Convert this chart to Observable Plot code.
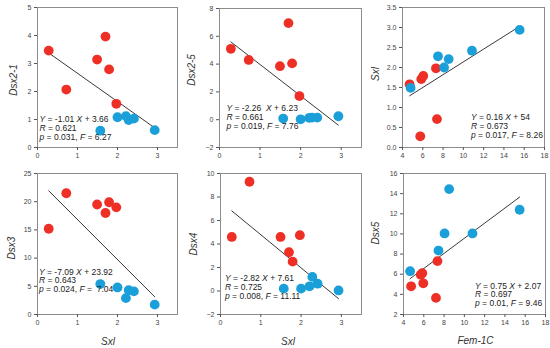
<!DOCTYPE html>
<html><head><meta charset="utf-8">
<script src="https://cdn.jsdelivr.net/npm/d3@7"></script>
<script src="https://cdn.jsdelivr.net/npm/@observablehq/plot@0.6"></script>
<style>
body{margin:0;background:#fff;}
#chart{position:relative;width:550px;height:348px;overflow:hidden;font-family:"Liberation Sans",Arial,sans-serif;background:#fff;}
#chart svg{position:absolute;overflow:visible;}
.ylab{position:absolute;font-style:italic;font-size:10px;transform:translate(-50%,-50%) rotate(-90deg);white-space:nowrap;color:#333;}
.xlab{position:absolute;font-style:italic;font-size:10px;transform:translate(-50%,-50%);white-space:nowrap;color:#333;}
.ann{position:absolute;font-size:8.5px;line-height:8.8px;white-space:pre;color:#222;}
</style></head><body><div id="chart"></div><script>
// ---- data ----
const sxlRed  = [0.28, 0.72, 1.49, 1.70, 1.79, 1.97];
const sxlBlue = [1.57, 2.00, 2.21, 2.28, 2.41, 2.93];
const dsx21Red  = [3.46, 2.07, 3.14, 3.96, 2.79, 1.56];
const dsx21Blue = [0.60, 1.08, 1.12, 0.98, 1.03, 0.62];
const dsx25Red  = [5.1, 4.3, 3.85, 6.95, 4.05, 1.7];
const dsx25Blue = [0.08, 0.03, 0.13, 0.15, 0.15, 0.25];
const dsx3Red  = [15.2, 21.5, 19.5, 18.0, 19.9, 19.0];
const dsx3Blue = [5.4, 4.8, 2.9, 4.3, 4.1, 1.75];
const dsx4Red  = [4.6, 9.3, 4.6, 3.3, 2.5, 4.75];
const dsx4Blue = [0.2, 0.2, 0.4, 1.2, 0.62, 0.05];
// Sxl vs Fem-1C panel
const femRedA  = [4.7, 5.85, 6.05, 7.3, 7.4, 5.75];
const sxlRedA  = [1.58, 1.71, 1.79, 1.98, 0.71, 0.28];
const femBlueA = [4.8, 7.5, 8.1, 8.55, 10.85, 15.55];
const sxlBlueA = [1.49, 2.28, 2.0, 2.21, 2.42, 2.94];
// Dsx5 vs Fem-1C panel
const femRedB  = [4.75, 5.7, 5.85, 5.95, 7.2, 7.35];
const dsx5Red  = [4.8, 5.95, 6.1, 5.1, 3.65, 7.3];
const femBlueB = [4.65, 7.45, 8.05, 8.5, 10.8, 15.45];
const dsx5Blue = [6.3, 8.35, 10.05, 14.45, 10.05, 12.4];
// regressions [slope, intercept]
const fits = [[-1.01, 3.66], [-2.26, 6.23], [0.16, 0.54], [-7.09, 23.92], [-2.82, 7.61], [0.75, 2.07]];
const eqTexts = [
  ["<i>Y</i> = -1.01 <i>X</i> + 3.66", "<i>R</i> = 0.621", "<i>p</i> = 0.031, <i>F</i> = 6.27"],
  ["<i>Y</i> = -2.26  <i>X</i> + 6.23", "<i>R</i> = 0.661", "<i>p</i> = 0.019, <i>F</i> = 7.76"],
  ["<i>Y</i> = 0.16 <i>X</i> + 54", "<i>R</i> = 0.673", "<i>p</i> = 0.017, <i>F</i> = 8.26"],
  ["<i>Y</i> = -7.09 <i>X</i> + 23.92", "<i>R</i> = 0.643", "<i>p</i> = 0.024, <i>F</i> =  7.04"],
  ["<i>Y</i> = -2.82 <i>X</i> + 7.61", "<i>R</i> = 0.725", "<i>p</i> = 0.008, <i>F</i> = 11.11"],
  ["<i>Y</i> = 0.75 <i>X</i> + 2.07", "<i>R</i> = 0.697", "<i>p</i> = 0.01, <i>F</i> = 9.46"]
];
const yLabels = ["Dsx2-1", "Dsx2-5", "Sxl", "Dsx3", "Dsx4", "Dsx5"];
const xLabels = ["", "", "", "Sxl", "Sxl", "Fem-1C"];
const RED = "#ee2f25", BLUE = "#1b9fd9";
const intFmt = d3.format("d");

const panels = [
  {xr: sxlRed, yr: dsx21Red, xb: sxlBlue, yb: dsx21Blue, xd: [0, 3.5], yd: [0, 5], xt: [0,1,2,3], yt: d3.range(0, 6, 1),
   f: {l: 37, t: 7, w: 140, h: 140}, ylab: [13, 80], ann: [39.5, 115]},
  {xr: sxlRed, yr: dsx25Red, xb: sxlBlue, yb: dsx25Blue, xd: [0, 3.5], yd: [-2, 8], xt: [0,1,2,3], yt: d3.range(-2, 9, 2),
   f: {l: 219, t: 8, w: 142, h: 139}, ylab: [191, 70], ann: [226.5, 104]},
  {xr: femRedA, yr: sxlRedA, xb: femBlueA, yb: sxlBlueA, xd: [4, 18], yd: [0, 3.5], xt: d3.range(4, 19, 2), yt: d3.range(0, 3.6, 0.5), yfmt: d3.format(".1f"),
   f: {l: 402, t: 7, w: 142, h: 140}, ylab: [375, 74], ann: [471, 113]},
  {xr: sxlRed, yr: dsx3Red, xb: sxlBlue, yb: dsx3Blue, xd: [0, 3.5], yd: [0, 25], xt: [0,1,2,3], yt: d3.range(0, 26, 5),
   f: {l: 37, t: 173, w: 140, h: 141}, ylab: [11, 248], ann: [39, 267.5]},
  {xr: sxlRed, yr: dsx4Red, xb: sxlBlue, yb: dsx4Blue, xd: [0, 3.5], yd: [-2, 10], xt: [0,1,2,3], yt: d3.range(-2, 11, 2),
   f: {l: 220, t: 173, w: 141, h: 141}, ylab: [193, 244], ann: [225, 274]},
  {xr: femRedB, yr: dsx5Red, xb: femBlueB, yb: dsx5Blue, xd: [4, 18], yd: [2, 16], xt: d3.range(4, 19, 2), yt: d3.range(2, 17, 2),
   f: {l: 403, t: 173, w: 142, h: 141}, ylab: [375, 233], ann: [475, 281.5]}
];
const xLabPos = [null, null, null, [108, 341], [288, 341], [475.5, 340]];

const chart = document.getElementById("chart");
const ML = 30, MR = 6, MT = 6, MB = 22;

panels.forEach((p, i) => {
  const red = p.xr.map((x, k) => ({x, y: p.yr[k]}));
  const blue = p.xb.map((x, k) => ({x, y: p.yb[k]}));
  const allX = p.xr.concat(p.xb);
  const [m, b] = fits[i];
  const x0 = d3.min(allX), x1 = d3.max(allX);
  const fit = [{x: x0, y: m * x0 + b}, {x: x1, y: m * x1 + b}];
  const svg = Plot.plot({
    width: p.f.w + ML + MR, height: p.f.h + MT + MB,
    marginLeft: ML, marginRight: MR, marginTop: MT, marginBottom: MB,
    x: {domain: p.xd}, y: {domain: p.yd},
    style: {fontFamily: "'Liberation Sans', Arial, sans-serif", fontSize: "7px", color: "#444", background: "transparent", overflow: "visible"},
    marks: [
      Plot.frame({stroke: "#8c8c8c", strokeWidth: 1}),
      Plot.axisX({ticks: p.xt, tickSize: 3, tickPadding: 3, label: null, stroke: "#555", fill: "#444", fontSize: 7, tickFormat: intFmt}),
      Plot.axisY({ticks: p.yt, tickSize: 3, tickPadding: 3, label: null, stroke: "#555", fill: "#444", fontSize: 7, tickFormat: p.yfmt || intFmt}),
      Plot.line(fit, {x: "x", y: "y", stroke: "#222", strokeWidth: 0.9}),
      Plot.dot(red, {x: "x", y: "y", r: 4.9, fill: RED, stroke: "none"}),
      Plot.dot(blue, {x: "x", y: "y", r: 4.9, fill: BLUE, stroke: "none"})
    ]
  });
  svg.style.left = (p.f.l - ML) + "px";
  svg.style.top = (p.f.t - MT) + "px";
  chart.appendChild(svg);

  const yl = document.createElement("div");
  yl.className = "ylab"; yl.textContent = yLabels[i];
  yl.style.left = p.ylab[0] + "px"; yl.style.top = p.ylab[1] + "px";
  chart.appendChild(yl);

  const an = document.createElement("div");
  an.className = "ann"; an.innerHTML = eqTexts[i].join("\n");
  an.style.left = p.ann[0] + "px"; an.style.top = p.ann[1] + "px";
  chart.appendChild(an);

  if (xLabels[i]) {
    const xl = document.createElement("div");
    xl.className = "xlab"; xl.textContent = xLabels[i];
    xl.style.left = xLabPos[i][0] + "px"; xl.style.top = xLabPos[i][1] + "px";
    chart.appendChild(xl);
  }
});
</script></body></html>
